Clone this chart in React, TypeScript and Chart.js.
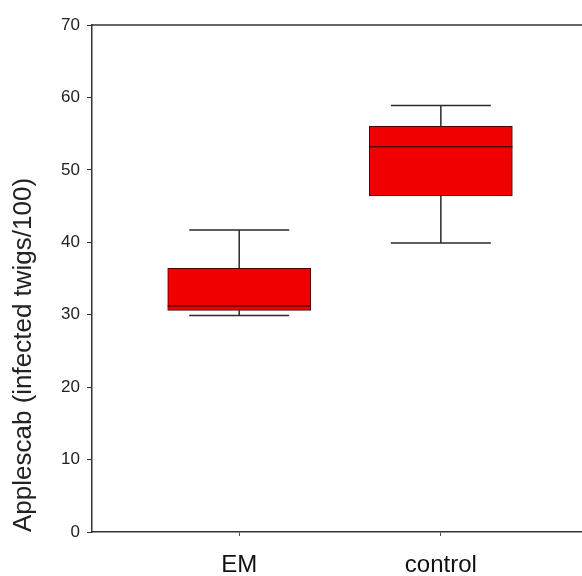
import React, { useEffect, useRef } from "react";
import { Chart, registerables } from "chart.js";

Chart.register(...registerables);

const categories = ["EM", "control"];
const minValues = [29.9, 39.9];
const q1Values = [30.6, 46.4];
const medianValues = [31.2, 53.2];
const q3Values = [36.4, 56.0];
const maxValues = [41.7, 58.9];
const yTicks = [0, 10, 20, 30, 40, 50, 60, 70];
const yTitle = "Applescab (infected twigs/100)";

const FONT = "'Liberation Sans', Arial, Helvetica, sans-serif";

const boxPlugin = {
  id: "boxWhiskers",
  afterDatasetsDraw(chart: any) {
    const { ctx, scales, chartArea } = chart;
    const xs = scales.x;
    const ys = scales.y;
    ctx.save();
    categories.forEach((_, i) => {
      const cx = xs.getPixelForValue(i + 1);
      const half = 143 / 2;
      const capHalf = 50;
      const yMin = ys.getPixelForValue(minValues[i]);
      const yQ1 = ys.getPixelForValue(q1Values[i]);
      const yMed = ys.getPixelForValue(medianValues[i]);
      const yQ3 = ys.getPixelForValue(q3Values[i]);
      const yMax = ys.getPixelForValue(maxValues[i]);
      ctx.strokeStyle = "#2a2a2a";
      ctx.lineWidth = 1.5;
      ctx.beginPath();
      ctx.moveTo(cx, yQ3);
      ctx.lineTo(cx, yMax);
      ctx.moveTo(cx - capHalf, yMax);
      ctx.lineTo(cx + capHalf, yMax);
      ctx.moveTo(cx, yQ1);
      ctx.lineTo(cx, yMin);
      ctx.moveTo(cx - capHalf, yMin);
      ctx.lineTo(cx + capHalf, yMin);
      ctx.stroke();
      ctx.strokeStyle = "#5a0000";
      ctx.lineWidth = 1.5;
      ctx.beginPath();
      ctx.moveTo(cx - half, yMed);
      ctx.lineTo(cx + half, yMed);
      ctx.stroke();
    });
    // top frame line
    ctx.strokeStyle = "#333";
    ctx.lineWidth = 1.5;
    ctx.beginPath();
    ctx.moveTo(chartArea.left, chartArea.top);
    ctx.lineTo(chart.width, chartArea.top);
    ctx.stroke();
    ctx.restore();
  },
};

export default function App() {
  const ref = useRef<HTMLCanvasElement>(null);
  useEffect(() => {
    if (!ref.current) return;
    const chart = new Chart(ref.current, {
      type: "bar",
      data: {
        datasets: [
          {
            data: categories.map((_, i) => ({ x: i + 1, y: [q1Values[i], q3Values[i]] })) as any,
            backgroundColor: "#f00000",
            borderColor: "#500000",
            borderWidth: 1,
            borderSkipped: false,
            barThickness: 143,
          },
        ],
      },
      options: {
        animation: false,
        responsive: false,
        maintainAspectRatio: false,
        layout: { padding: { top: 25, right: 0, left: 0, bottom: 0 } },
        plugins: { legend: { display: false }, tooltip: { enabled: false } },
        scales: {
          x: {
            type: "linear",
            min: 0.27,
            max: 2.7,
            offset: false,
            afterBuildTicks: (scale: any) => {
              scale.ticks = categories.map((_, i) => ({ value: i + 1 }));
            },
            afterFit: (scale: any) => {
              scale.height = 44;
            },
            ticks: {
              callback: (v: any) => categories[Math.round(Number(v)) - 1] ?? "",
              font: { family: FONT, size: 24 },
              color: "#111",
              padding: 15,
              maxRotation: 0,
            },
            grid: { display: true, drawOnChartArea: false, drawTicks: true, tickLength: 4, color: "#555", offset: false },
            border: { display: true, color: "#333", width: 1.5 },
          },
          y: {
            type: "linear",
            min: 0,
            max: 70,
            afterBuildTicks: (scale: any) => {
              scale.ticks = yTicks.map((v) => ({ value: v }));
            },
            afterFit: (scale: any) => {
              scale.width = 92;
            },
            ticks: {
              font: { family: FONT, size: 17 },
              color: "#222",
              padding: 7,
            },
            grid: { display: true, drawOnChartArea: false, drawTicks: true, tickLength: 5, color: "#333" },
            border: { display: true, color: "#333", width: 1.5 },
            title: {
              display: true,
              text: yTitle,
              align: "start",
              font: { family: FONT, size: 26 },
              color: "#222",
              padding: { top: 8, bottom: 0 },
            },
          },
        },
      },
      plugins: [boxPlugin],
    });
    return () => chart.destroy();
  }, []);
  return (
    <div style={{ position: "absolute", left: 0, top: 0, width: 582, height: 576, background: "#fff" }}>
      <canvas ref={ref} width={582} height={576} />
    </div>
  );
}
